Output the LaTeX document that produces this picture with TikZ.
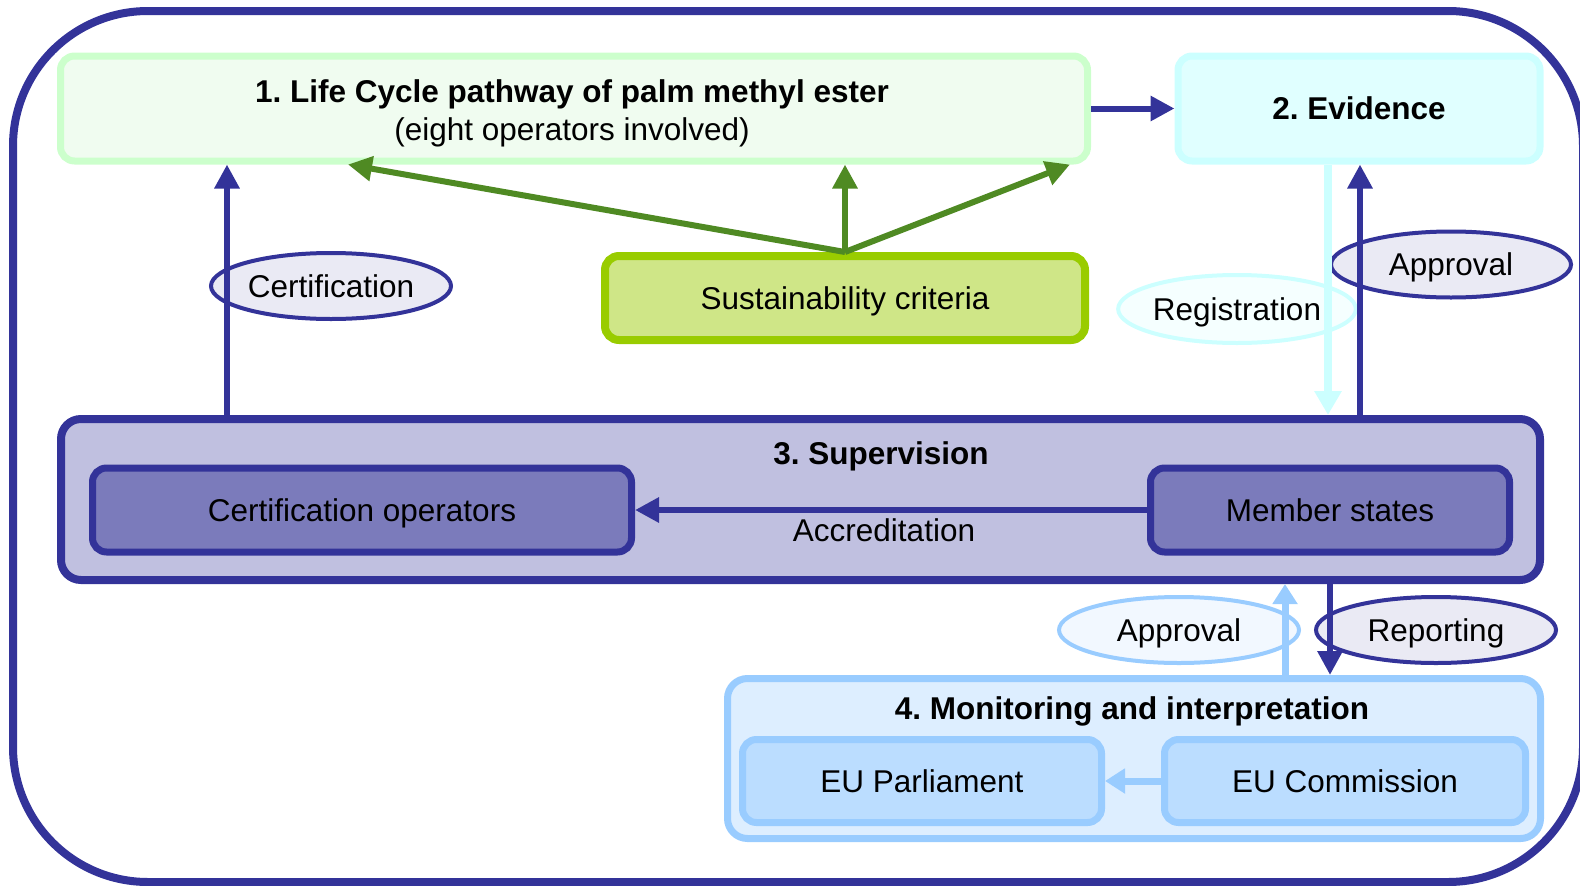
\documentclass[tikz,border=0pt]{standalone}
\usepackage{fontspec}
\setmainfont{Liberation Sans}
\usetikzlibrary{arrows.meta,shapes.geometric}
\definecolor{navy}{HTML}{333399}
\definecolor{supfill}{HTML}{C0C0E0}
\definecolor{opfill}{HTML}{7B7BBB}
\definecolor{ellfill}{HTML}{EAEAF4}
\definecolor{lgborder}{HTML}{CCFFCC}
\definecolor{lgfill}{HTML}{F0FCF0}
\definecolor{cyborder}{HTML}{CCFFFF}
\definecolor{cyfill}{HTML}{E0FFFF}
\definecolor{cyell}{HTML}{F5FFFF}
\definecolor{susborder}{HTML}{99CC00}
\definecolor{susfill}{HTML}{CFE687}
\definecolor{garrow}{HTML}{4F8A23}
\definecolor{lblue}{HTML}{99CCFF}
\definecolor{monfill}{HTML}{DDEEFF}
\definecolor{eufill}{HTML}{BBDDFF}
\definecolor{lbell}{HTML}{F2F8FF}
\frenchspacing
\begin{document}
\begin{tikzpicture}[x=1pt,y=-1pt,
  txt/.style={font=\fontsize{31.5}{36}\selectfont},
  btxt/.style={font=\fontsize{31.5}{36}\selectfont\bfseries},
  box/.style={rounded corners=14pt, inner sep=0pt, txt, text height=22.5pt, text depth=0pt},
  lab/.style={ellipse, inner sep=0pt, line width=4pt, minimum width=240pt, minimum height=66pt, txt, text height=22.5pt, text depth=0pt},
  navyarr/.style={draw=navy, line width=6pt, -{Triangle[length=24pt,width=24pt]}},
  greenarr/.style={draw=garrow, line width=6pt, -{Triangle[length=24pt,width=24pt]}},
  cyanarr/.style={draw=cyborder, line width=8pt, -{Triangle[length=24pt,width=26pt]}},
  lbarr/.style={draw=lblue, line width=7pt, -{Triangle[length=20pt,width=24pt]}}
]
\useasboundingbox (0,0) rectangle (1580,886);
\clip (0,0) rectangle (1580,886);
% outer frame
\draw[navy, line width=8pt, rounded corners=135pt] (13,11) rectangle (1583,882);

% box 1
\node[box, draw=lgborder, fill=lgfill, line width=7pt, minimum width=1027pt, minimum height=105pt] (b1) at (574,108.5) {};
\node[btxt, anchor=base] (t1) at (572,102) {1. Life Cycle pathway of palm methyl ester};
\node[txt, anchor=base] (t1b) at (572,140) {(eight operators involved)};

% box 2
\node[box, draw=cyborder, fill=cyfill, line width=7pt, minimum width=362pt, minimum height=105pt, font=\fontsize{31.5}{36}\selectfont\bfseries] (b2) at (1359,108.5) {2. Evidence};

% sustainability
\node[box, draw=susborder, fill=susfill, line width=8pt, minimum width=480pt, minimum height=84pt] (sus) at (845,298) {Sustainability criteria};

% box 3
\node[box, rounded corners=20pt, draw=navy, fill=supfill, line width=8pt, minimum width=1479pt, minimum height=161pt] (b3) at (800.5,499.5) {};
\node[btxt, anchor=base] (t3) at (881,464) {3. Supervision};
\node[box, draw=navy, fill=opfill, line width=7pt, minimum width=539pt, minimum height=84pt] (cop) at (362,510) {Certification operators};
\node[box, draw=navy, fill=opfill, line width=7pt, minimum width=359pt, minimum height=84pt] (mem) at (1330,510) {Member states};
\node[txt, anchor=base] (acc) at (884,541) {Accreditation};

% box 4
\node[box, rounded corners=20pt, draw=lblue, fill=monfill, line width=7pt, minimum width=813pt, minimum height=160pt] (b4) at (1134,758.5) {};
\node[btxt, anchor=base] (t4) at (1132,719) {4. Monitoring and interpretation};
\node[box, draw=lblue, fill=eufill, line width=7pt, minimum width=359pt, minimum height=83pt] (par) at (922,781) {EU Parliament};
\node[box, draw=lblue, fill=eufill, line width=7pt, minimum width=361pt, minimum height=83pt] (com) at (1345,781) {EU Commission};

% labels (ellipses)
\node[lab, draw=navy, fill=ellfill] (lcert) at (331,286) {Certification};
\node[lab, draw=navy, fill=ellfill] (lapp) at (1451,264.5) {Approval};
\node[lab, draw=cyborder, fill=cyell, minimum width=237pt, minimum height=68pt] (lreg) at (1237,309) {Registration};
\node[lab, draw=lblue, fill=lbell] (lapp2) at (1179,630) {Approval};
\node[lab, draw=navy, fill=ellfill] (lrep) at (1436,630) {Reporting};

% x positions of vertical connectors
\coordinate (xc) at (227,0);
\coordinate (xreg) at (1328,0);
\coordinate (xapp) at (1360,0);
\coordinate (xapp2) at (1285,0);
\coordinate (xrep) at (1330,0);
\coordinate (g1) at (348,0);
\coordinate (g3) at (1070,0);

% connectors
\draw[navyarr] (b1.east) -- (b2.west);
\draw[greenarr] (sus.north) -- (b1.south -| g1);
\draw[greenarr] (sus.north) -- (b1.south -| sus.north);
\draw[greenarr] (sus.north) -- (b1.south -| g3);
\draw[navyarr] (b3.north -| xc) -- (b1.south -| xc);
\draw[cyanarr] (b2.south -| xreg) -- (b3.north -| xreg);
\draw[navyarr] (b3.north -| xapp) -- (b2.south -| xapp);
\draw[navyarr] (mem.west) -- (cop.east);
\draw[lbarr] (b4.north -| xapp2) -- (b3.south -| xapp2);
\draw[navyarr] (b3.south -| xrep) -- (b4.north -| xrep);
\draw[lbarr] (com.west) -- (par.east);
\end{tikzpicture}
\end{document}
